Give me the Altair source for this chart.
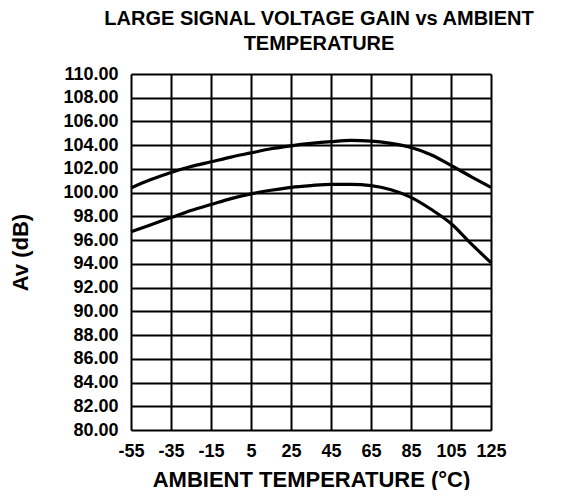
import altair as alt
import pandas as pd

temps = [-55, -45, -35, -25, -15, -5, 5, 15, 25, 35, 45, 55, 65, 75, 85, 95, 105, 115, 125]
upper = [100.4, 101.1, 101.7, 102.2, 102.6, 103.0, 103.35, 103.7, 103.95, 104.15, 104.3, 104.4, 104.35, 104.15, 103.8, 103.2, 102.3, 101.35, 100.45]
lower = [96.7, 97.3, 97.9, 98.5, 99.0, 99.5, 99.9, 100.2, 100.45, 100.6, 100.7, 100.7, 100.6, 100.25, 99.6, 98.6, 97.4, 95.7, 94.1]

x_ticks = [-55, -35, -15, 5, 25, 45, 65, 85, 105, 125]
y_ticks = list(range(80, 111, 2))

df = pd.concat([
    pd.DataFrame({"temp": temps, "gain": upper, "curve": "upper"}),
    pd.DataFrame({"temp": temps, "gain": lower, "curve": "lower"}),
])

FONT = "Liberation Sans"

chart = alt.Chart(df).mark_line(
    color="black", strokeWidth=3.2, interpolate="monotone"
).encode(
    x=alt.X("temp:Q",
            scale=alt.Scale(domain=[-55, 125], nice=False, zero=False),
            axis=alt.Axis(values=x_ticks, title="AMBIENT TEMPERATURE (°C)",
                          labelExpr="'' + datum.value",
                          grid=True, gridColor="black", gridWidth=2,
                          gridOpacity=1, ticks=False, domain=False,
                          labelFont=FONT, labelFontSize=18, labelFontWeight="bold",
                          labelColor="black", labelPadding=12, labelFlush=False,
                          labelOverlap=False,
                          titleFont=FONT, titleFontSize=22, titleFontWeight="bold",
                          titleColor="black", titlePadding=9)),
    y=alt.Y("gain:Q",
            scale=alt.Scale(domain=[80, 110], nice=False, zero=False),
            axis=alt.Axis(values=y_ticks, title="Av (dB)", format=".2f",
                          grid=True, gridColor="black", gridWidth=2, gridOpacity=1,
                          ticks=False, domain=False, labelOverlap=False,
                          labelFont=FONT, labelFontSize=18, labelFontWeight="bold",
                          labelColor="black", labelPadding=13, labelFlush=False,
                          titleFont=FONT, titleFontSize=22, titleFontWeight="bold",
                          titleColor="black", titlePadding=30)),
    detail="curve:N",
).properties(
    width=360,
    height=356,
    title=alt.TitleParams(
        text=["LARGE SIGNAL VOLTAGE GAIN vs AMBIENT", "TEMPERATURE"],
        font=FONT, fontSize=20, fontWeight="bold", color="black",
        anchor="middle", offset=11, lineHeight=25, dx=8,
    ),
    autosize=alt.AutoSizeParams(type="none"),
    padding={"left": 123, "top": 66, "right": 60, "bottom": 60},
).configure_view(
    stroke="black", strokeWidth=2
).configure(background="white")

chart.save("out.html", embed_options={"renderer": "svg", "actions": False})
